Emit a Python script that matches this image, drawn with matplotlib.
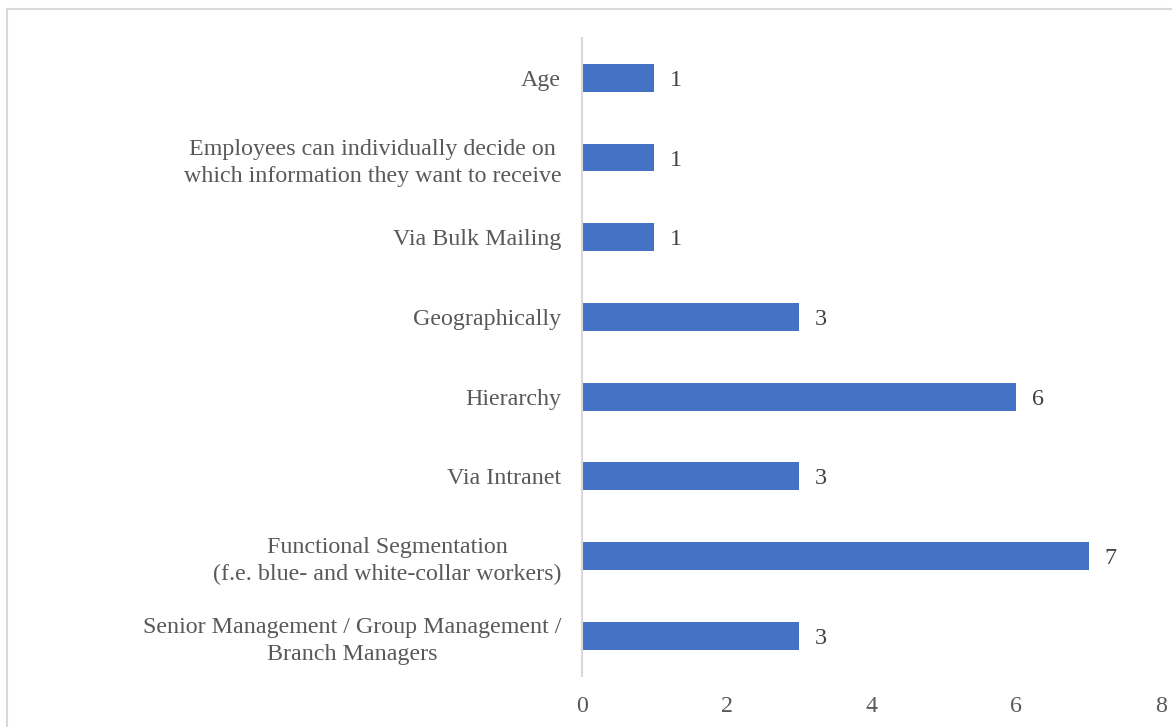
import matplotlib.pyplot as plt
from matplotlib.patches import Rectangle

# survey answers: how internal communication is segmented (top to bottom)
categories = [
    "Age",
    "Employees can individually decide on\nwhich information they want to receive",
    "Via Bulk Mailing",
    "Geographically",
    "Hierarchy",
    "Via Intranet",
    "Functional Segmentation\n(f.e. blue- and white-collar workers)",
    "Senior Management / Group Management /\nBranch Managers",
]
counts = [1, 1, 1, 3, 6, 3, 7, 3]
x_ticks = [0, 2, 4, 6, 8]

BAR = "#4472C4"
GRID = "#D9D9D9"
TEXT = "#595959"
FS = 17.3

plt.rcParams["font.family"] = ["Liberation Serif", "DejaVu Serif"]

fig = plt.figure(figsize=(11.72, 7.27), dpi=100)
ax = fig.add_axes([582 / 1172, 1 - 675.6 / 727, (1161 - 582) / 1172, (675.6 - 38) / 727])

pos = list(range(len(categories)))
bars = ax.barh(pos, counts, height=0.35, color=BAR)
labels = ax.bar_label(bars, labels=[str(v) for v in counts], padding=11, fontsize=FS, color="#404040")
for t in labels:
    t.set_va("center_baseline")

ax.set_ylim(len(categories) - 0.5, -0.5)
ax.set_xlim(0, 8)
ax.set_yticks(pos)
ax.set_yticklabels(categories, fontsize=FS, color=TEXT, multialignment="center", linespacing=1.35)
ax.set_xticks(x_ticks)
ax.set_xticklabels([str(t) for t in x_ticks], fontsize=FS, color=TEXT)
ax.tick_params(axis="y", length=0, pad=15)
ax.tick_params(axis="x", length=0, pad=15)

for side in ["top", "right", "bottom"]:
    ax.spines[side].set_visible(False)
ax.spines["left"].set_color(GRID)
ax.spines["left"].set_linewidth(1.5)

# light frame around the chart area, cut off at the right and bottom
fig.patches.append(
    Rectangle(
        (6.5 / 1172, -0.05),
        1.1,
        1 - 8.5 / 727 + 0.05,
        transform=fig.transFigure,
        fill=False,
        edgecolor=GRID,
        linewidth=1.5,
    )
)

fig.savefig("out.png", dpi=100)
